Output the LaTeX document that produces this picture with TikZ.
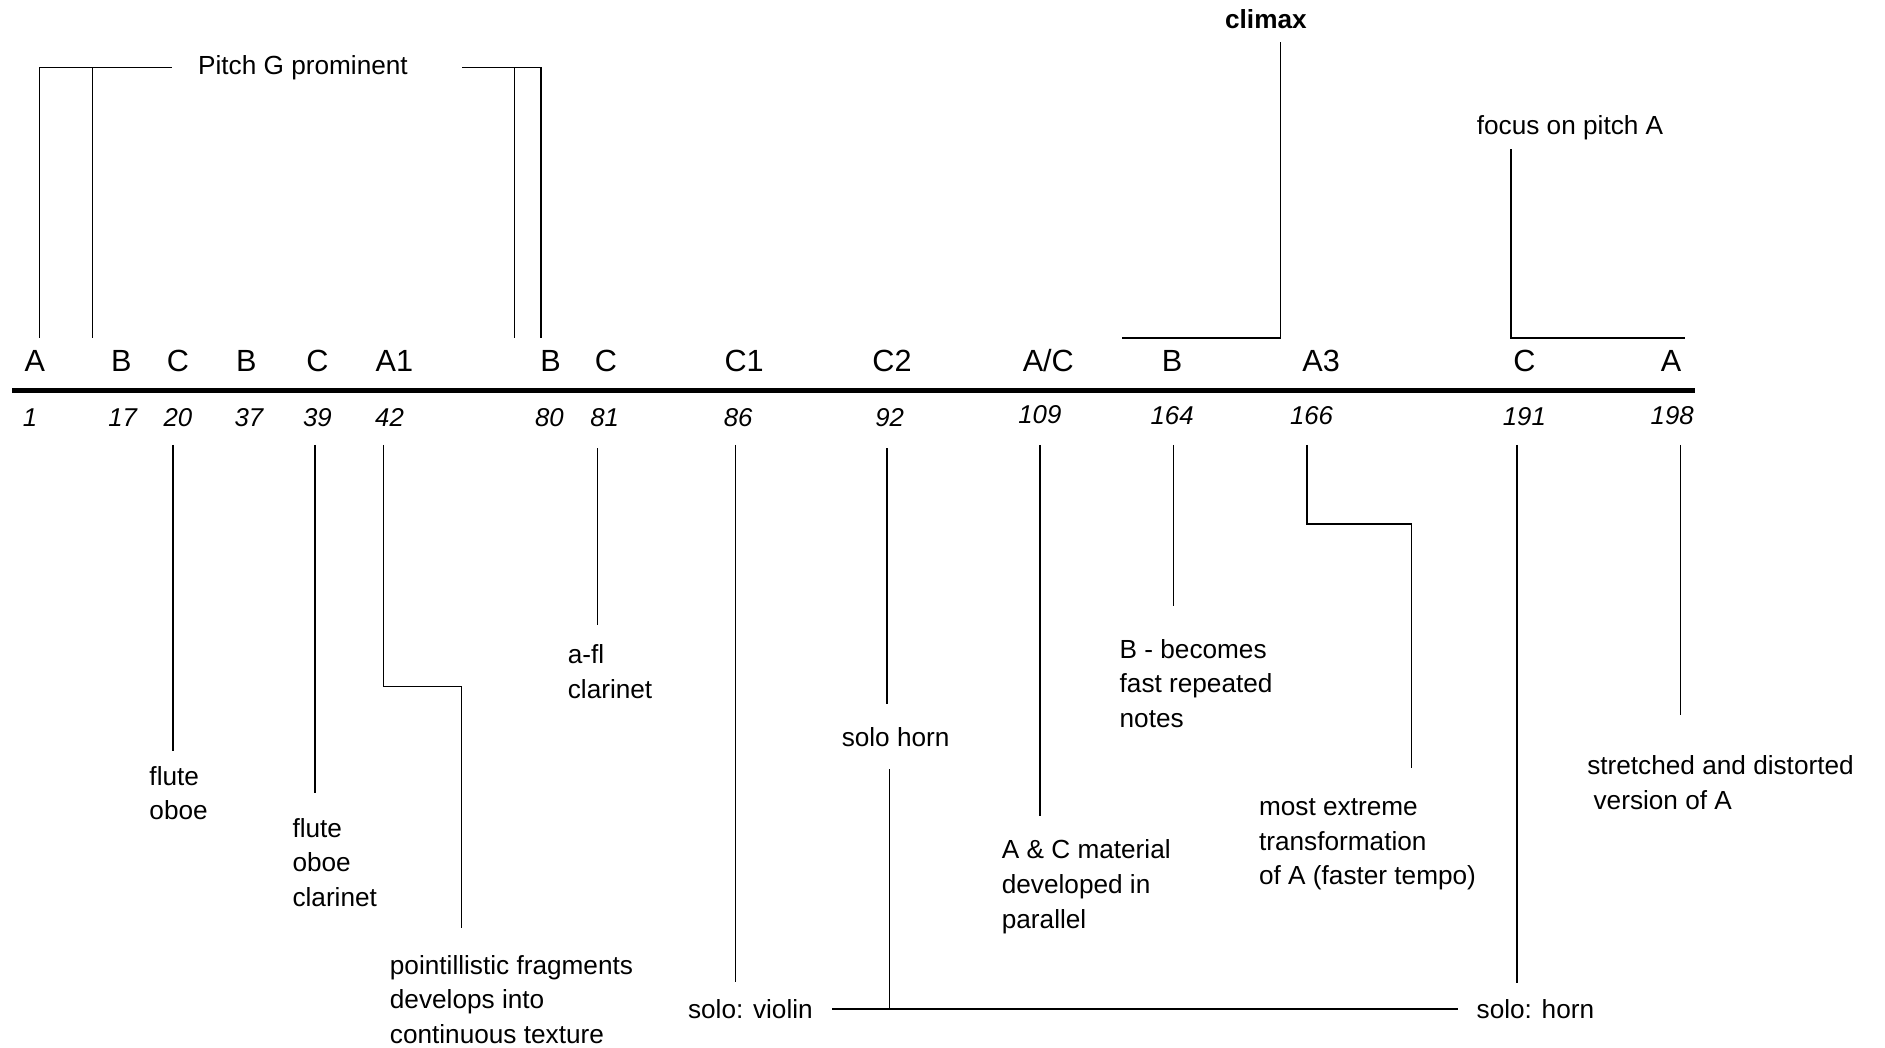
\documentclass[tikz,border=0pt]{standalone}
\usepackage{fontspec}
\setmainfont{Liberation Sans}

\begin{document}
\begin{tikzpicture}[x=0.02cm,y=-0.02cm,
	sec/.style={font=\fontsize{14.5}{17}\selectfont,anchor=base,inner sep=0pt},
	bar/.style={font=\fontsize{12.2}{15}\selectfont\itshape,anchor=base,inner sep=0pt},
	note/.style={font=\fontsize{12.4}{16.4}\selectfont,anchor=base west,align=left,inner sep=0pt},
	lead/.style={line width=0.7pt}]
	\useasboundingbox (0,0) rectangle (1568,871);
	%sections
	\foreach \x/\s/\n in {29/A/1,101/B/17,148/C/20,205/B/37,264/C/39,328/A1/42,458/B/80,504/C/81,
		619/C1/86,742/C2/92,975/B/164,1099/A3/166,1268/C/191,1390/A/198}
		\node[sec] (s\n) at (\x,309) {\s};
	\node[sec] (s109) at (872,309) {A/C};
	%bar numbers
	\foreach \x/\y/\n in {25/355/1,102/355/17,148/355/20,207/355/37,264/355/39,324/355/42,457/355/80,
		503/355/81,614/355/86,740/355/92,865/352/109,975/353/164,1091/353/166,1268/354/191,1391/353/198}
		\node[bar] (n\n) at (\x,\y) {\n};
	%time line
	\coordinate (axL) at (10,325);
	\coordinate (axR) at (1410,325);
	\draw[line width=2.4pt] (axL)--(axR);
	%top notes
	\node[font=\fontsize{12.4}{15}\selectfont\bfseries,inner sep=0pt] (climax) at (1053,16) {climax};
	\node[font=\fontsize{12.4}{15}\selectfont,anchor=base,inner sep=0pt] (pitchG) at (252,62) {Pitch G prominent};
	\node[font=\fontsize{12.4}{15}\selectfont,anchor=base,inner sep=0pt] (focusA) at (1306,112) {focus on pitch A};
	\coordinate (pA) at (33,281);
	\coordinate (pB) at (77,281);
	\coordinate (pC) at (428,281);
	\coordinate (pD) at (450,281);
	\draw[lead,shorten >=0.42cm] (pA) |- (pitchG.west);
	\draw[lead] (pB)--(pB |- pitchG.west);
	\draw[lead,shorten >=0.9cm] (pD) |- (pitchG.east);
	\draw[lead] (pC)--(pC |- pitchG.west);
	\coordinate (cxT) at (1065,35);
	\coordinate (cxE) at (933,281);
	\draw[lead] (cxT) |- (cxE);
	\coordinate (fcT) at (1257,124);
	\coordinate (fcE) at (1402,281);
	\draw[lead] (fcT) |- (fcE);
	%bottom notes (placed at the baseline of the last line)
	\node[note] (t20) at (124,682) {flute\\oboe};
	\node[note] (t39) at (243,754) {flute\\oboe\\clarinet};
	\node[note] (t42) at (324,868) {pointillistic fragments\\develops into\\continuous texture};
	\node[note] (t81) at (472,581) {a-fl\\clarinet};
	\node[note] (violin) at (572,847) {solo: violin};
	\node[note,anchor=base] (horn92) at (745,621) {solo horn};
	\node[note] (t109) at (833,772) {A \& C material\\developed in\\parallel};
	\node[note] (t164) at (931,605) {B - becomes\\fast repeated\\notes};
	\node[note] (t166) at (1047,736) {most extreme\\transformation\\of A (faster tempo)};
	\node[note] (horn) at (1228,847) {solo: horn};
	\node[note] (t198) at (1320,673) {stretched and distorted\\\hspace{3pt}version of A};
	%leaders
	\foreach \n/\x/\ya/\yb in {20/144/370/625,39/262/370/660,81/497/373/520,86/612/370/817,
		109/865/370/679,164/976/370/504,191/1262/370/818,198/1398/370/595}{
		\coordinate (a\n) at (\x,\ya);
		\coordinate (b\n) at (\x,\yb);
		\draw[lead] (a\n)--(b\n);
	}
	\coordinate (a42) at (319,370);
	\coordinate (b42) at (384,772);
	\draw[lead] (a42)--(319,571)--(384,571)--(b42);
	\coordinate (a166) at (1087,370);
	\coordinate (b166) at (1174,639);
	\draw[lead] (a166)--(1087,436)--(1174,436)--(b166);
	\coordinate (a92) at (738,373);
	\coordinate (b92) at (738,586);
	\draw[lead] (a92)--(b92);
	\coordinate (c92) at (740,640);
	\draw[lead] (c92)--(c92 |- violin.east);
	\draw[lead,shorten <=0.32cm,shorten >=0.3cm] (violin.east)--(horn.west);
\end{tikzpicture}
\end{document}
